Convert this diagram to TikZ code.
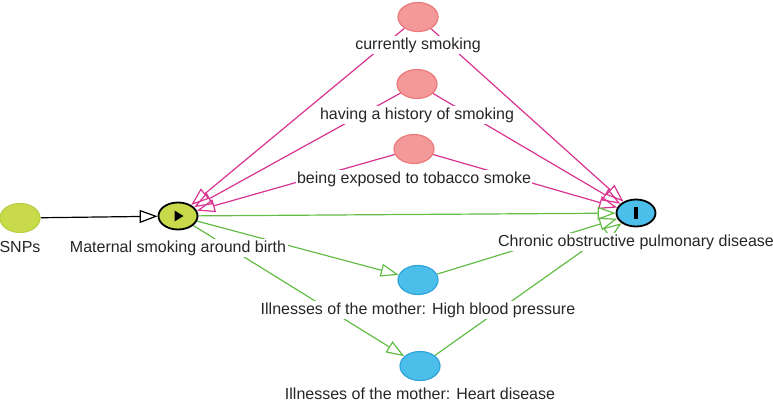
\documentclass[tikz,border=0pt]{standalone}
\usepackage{fontspec}
\setmainfont{Liberation Sans}
\usetikzlibrary{arrows.meta,shapes.geometric}
\pgfdeclarelayer{bg}\pgfsetlayers{bg,main}
\definecolor{yelfill}{HTML}{C8DA4A}
\definecolor{yeldraw}{HTML}{B9CF45}
\definecolor{redfill}{HTML}{F4999A}
\definecolor{reddraw}{HTML}{EC7A7C}
\definecolor{bluefill}{HTML}{4CBEEA}
\definecolor{bluedraw}{HTML}{2FA3DB}
\definecolor{edgered}{HTML}{D9338F}
\definecolor{edgegreen}{HTML}{63BD45}
\begin{document}
\begin{tikzpicture}[x=1pt,y=-1pt,
  var/.style={ellipse, minimum width=40pt, minimum height=29pt, inner sep=0pt, line width=1.2pt},
  yelvar/.style={var, fill=yelfill, draw=yeldraw},
  redvar/.style={var, fill=redfill, draw=reddraw},
  bluevar/.style={var, fill=bluefill, draw=bluedraw},
  keyvar/.style={line width=1.8pt, draw=black, minimum width=39pt, minimum height=27pt},
  lab/.style={fill=white, inner sep=1.5pt, text=black!85, font=\fontsize{16}{19}\selectfont},
  arr/.style={line width=1.2pt, -{Triangle[open,length=18pt,width=13pt,line width=1.2pt]}},
  blackedge/.style={arr, draw=black},
  rededge/.style={arr, draw=edgered},
  greenedge/.style={arr, draw=edgegreen}]
\useasboundingbox (0,0) rectangle (773,402);
% nodes
\node[yelvar] (snp) at (20,218) {};
\node[yelvar, keyvar] (mat) at (178,216) {};
\node[redvar] (cur) at (418,17) {};
\node[redvar] (hist) at (417,84) {};
\node[redvar] (expo) at (414,149) {};
\node[bluevar, keyvar] (copd) at (636,213) {};
\node[bluevar] (hbp) at (418,280) {};
\node[bluevar] (heart) at (420,366) {};
% icons
\fill[black] (mat.center) ++(-3.5,-5.5) -- ++(9,5.5) -- ++(-9,5.5) -- cycle;
\fill[black] (copd.center) ++(-1.6,-6) rectangle ++(3.2,12);
% labels
\node[lab] (snpl) at (20,247) {SNPs};
\node[lab] (matl) at (178,248) {Maternal smoking around birth};
\node[lab] (curl) at (418,45) {currently smoking};
\node[lab] (histl) at (417,115) {having a history of smoking};
\node[lab] (expol) at (414,179) {being exposed to tobacco smoke};
\node[lab] (copdl) at (636,242) {Chronic obstructive pulmonary disease};
\node[lab] (hbpl) at (418,310) {Illnesses of the mother: High blood pressure};
\node[lab] (heartl) at (420,394) {Illnesses of the mother: Heart disease};
% edges
\begin{pgfonlayer}{bg}
\draw[blackedge] (snp) -- (mat);
\draw[rededge] (cur) -- (mat);
\draw[rededge] (hist) -- (mat);
\draw[rededge] (expo) -- (mat);
\draw[rededge] (cur) -- (copd);
\draw[rededge] (hist) -- (copd);
\draw[rededge] (expo) -- (copd);
\draw[greenedge] (mat) -- (copd);
\draw[greenedge] (mat) -- (hbp);
\draw[greenedge] (mat) -- (heart);
\draw[greenedge] (hbp) -- (copd);
\draw[greenedge] (heart) -- (copd);
\end{pgfonlayer}
\end{tikzpicture}
\end{document}
